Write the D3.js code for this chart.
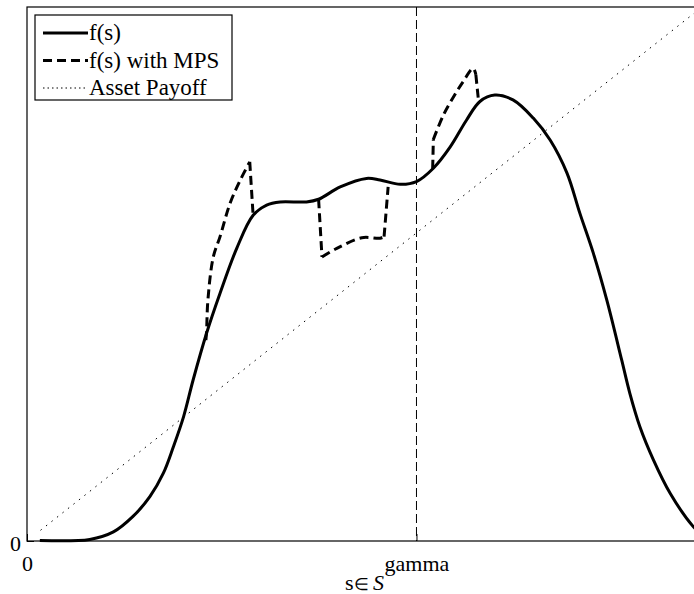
<!DOCTYPE html>
<html><head><meta charset="utf-8">
<script src="https://cdn.jsdelivr.net/npm/d3@7"></script>
<style>
html,body{margin:0;padding:0;background:#fff;}
svg{display:block;}
text{font-family:"Liberation Serif","Times New Roman",serif;fill:#000;}
</style></head>
<body>
<script>
// ---- data ----
const gamma = 0.577;
const xTickValues = [0, gamma];
const xTickLabels = ["0", "gamma"];
const yTickValues = [0];
const yTickLabels = ["0"];

const fsX = [0.019,0.093,0.128,0.157,0.182,0.202,0.217,0.232,0.246,0.266,0.286,0.311,0.335,0.355,0.375,0.414,0.432,0.464,0.503,0.523,0.553,0.577,0.602,0.627,0.651,0.671,0.693,0.720,0.750,0.775,0.800,0.819,0.839,0.859,0.881,0.893,0.908,0.928,0.953,0.987,1.0];
const fsY = [0.001,0.003,0.017,0.046,0.083,0.127,0.177,0.233,0.301,0.389,0.464,0.549,0.610,0.629,0.635,0.635,0.640,0.663,0.679,0.676,0.668,0.673,0.698,0.738,0.788,0.823,0.835,0.826,0.792,0.751,0.689,0.614,0.539,0.451,0.339,0.277,0.214,0.152,0.089,0.027,0.012];

// MPS segments (null = break)
const mpsX = [0.265,0.266,0.268,0.276,0.286,0.301,0.316,0.330, null, 0.330,0.335, null, 0.432,0.437, null, 0.437,0.459,0.496,0.523,0.529, null, 0.529,0.535, null, 0.601,0.602, null, 0.602,0.617,0.632,0.646,0.661,0.665, null, 0.665,0.669];
const mpsY = [0.376,0.392,0.451,0.532,0.570,0.633,0.676,0.710, null, 0.710,0.610, null, 0.640,0.532, null, 0.532,0.548,0.568,0.567,0.570, null, 0.570,0.663, null, 0.697,0.752, null, 0.752,0.798,0.832,0.860,0.885,0.873, null, 0.873,0.823];

const payoffX = [0.02, 1.0];
const payoffY = [0.02, 1.0];

const legendLabels = ["f(s)", "f(s) with MPS", "Asset Payoff"];

// ---- chart ----
const W = 694, H = 594;
const m = {left:27, top:7, right:702, bottom:541};
const svg = d3.select("body").append("svg").attr("width", W).attr("height", H);

const x = d3.scaleLinear().domain([0,1]).range([m.left, m.right]);
const y = d3.scaleLinear().domain([0,1]).range([m.bottom, m.top]);

const toPts = (xs, ys) => xs.map((v,i) => [v, ys[i]]);
const smooth = d3.line().defined(d => d[0] !== null && d[1] !== null)
  .x(d => x(d[0])).y(d => y(d[1])).curve(d3.curveCatmullRom.alpha(0.5));
const straight = d3.line().x(d => x(d[0])).y(d => y(d[1]));

// frame
svg.append("rect").attr("x", m.left).attr("y", m.top)
  .attr("width", m.right - m.left).attr("height", m.bottom - m.top)
  .attr("fill", "none").attr("stroke", "#000").attr("stroke-width", 1.2);

// axes
const xAxis = d3.axisBottom(x).tickValues(xTickValues)
  .tickFormat((d,i) => xTickLabels[i]).tickSizeInner(-7).tickSizeOuter(0).tickPadding(14);
const gx = svg.append("g").attr("transform", `translate(0,${m.bottom})`).call(xAxis);
gx.select(".domain").remove();
gx.selectAll("text").style("font-size", "22px").attr("fill", "#000");
gx.selectAll("line").attr("stroke", "#000");

const yAxis = d3.axisLeft(y).tickValues(yTickValues)
  .tickFormat((d,i) => yTickLabels[i]).tickSizeInner(-7).tickSizeOuter(0).tickPadding(6);
const gy = svg.append("g").attr("transform", `translate(${m.left},0)`).call(yAxis);
gy.select(".domain").remove();
gy.selectAll("text").style("font-size", "22px").attr("fill", "#000").attr("dy", "0.42em");

// x label
const xl = svg.append("text").attr("x", (m.left + m.right)/2).attr("y", 590)
  .attr("text-anchor", "middle").style("font-size", "22px");
xl.append("tspan").text("s");
xl.append("tspan").style("font-size", "17px").text("\u2208 ");
xl.append("tspan").attr("font-style", "italic").text("S");

// gamma vertical line
svg.append("line").attr("x1", x(gamma)).attr("x2", x(gamma))
  .attr("y1", y(1)).attr("y2", y(0))
  .attr("stroke", "#000").attr("stroke-width", 1).attr("stroke-dasharray", "9,4");

// payoff
svg.append("path").attr("d", straight(toPts(payoffX, payoffY)))
  .attr("fill", "none").attr("stroke", "#000").attr("stroke-width", 1)
  .attr("stroke-dasharray", "1.5,5.5");

// MPS
svg.append("path").attr("d", smooth(toPts(mpsX, mpsY)))
  .attr("fill", "none").attr("stroke", "#000").attr("stroke-width", 3)
  .attr("stroke-dasharray", "9,5");

// f(s)
svg.append("path").attr("d", smooth(toPts(fsX, fsY)))
  .attr("fill", "none").attr("stroke", "#000").attr("stroke-width", 3)
  .attr("stroke-linejoin", "round");

// legend
const lg = svg.append("g");
lg.append("rect").attr("x", 35).attr("y", 15).attr("width", 197).attr("height", 85)
  .attr("fill", "#fff").attr("stroke", "#000").attr("stroke-width", 1.2);
const rowsY = [33, 60.5, 88];
const styles = [{w:3, d:null}, {w:3, d:"9,5"}, {w:1, d:"1.5,3"}];
legendLabels.forEach((lab, i) => {
  lg.append("line").attr("x1", 43).attr("x2", 88).attr("y1", rowsY[i]).attr("y2", rowsY[i])
    .attr("stroke", "#000").attr("stroke-width", styles[i].w)
    .attr("stroke-dasharray", styles[i].d);
  lg.append("text").attr("x", 89).attr("y", rowsY[i] + 7).style("font-size", "23px").text(lab);
});
</script>
</body></html>
